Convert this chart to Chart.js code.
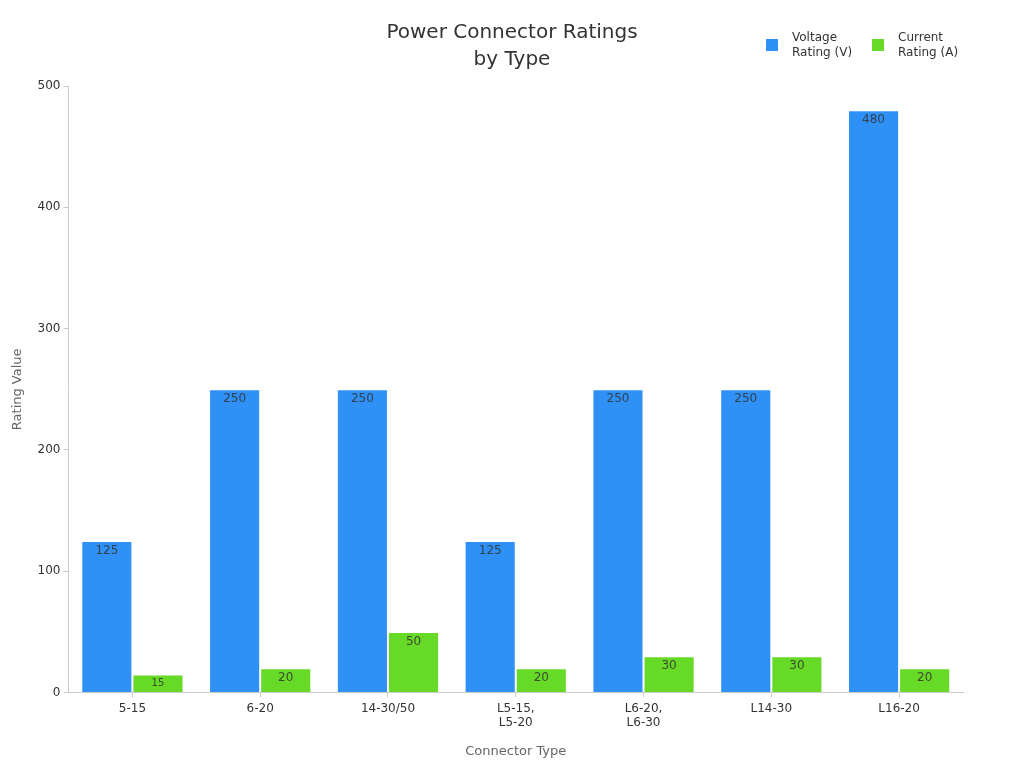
<!DOCTYPE html>
<html>
<head>
<meta charset="utf-8">
<script src="https://cdn.jsdelivr.net/npm/chart.js@4.4.1/dist/chart.umd.min.js"></script>
<style>
  html, body { margin: 0; padding: 0; background: #fff; }
  #wrap { width: 1024px; height: 768px; }
</style>
</head>
<body>
<div id="wrap"><canvas id="canvas" width="1024" height="768"></canvas></div>
<script>
// chart data
const connectorTypes = ['5-15', '6-20', '14-30/50', ['L5-15,', 'L5-20'], ['L6-20,', 'L6-30'], 'L14-30', 'L16-20'];
const voltageRating = [125, 250, 250, 125, 250, 250, 480];
const currentRating = [15, 20, 50, 20, 30, 30, 20];
const seriesNames = [['Voltage', 'Rating (V)'], ['Current', 'Rating (A)']];
const seriesColors = ['#2f91f6', '#66da26'];
const chartTitle = ['Power Connector Ratings', 'by Type'];

const FONT = "'DejaVu Sans', sans-serif";

// writes the value inside the top of each bar
const barLabels = {
    id: 'barLabels',
    afterDatasetsDraw(chart) {
        const ctx = chart.ctx;
        ctx.save();
        ctx.textAlign = 'center';
        ctx.textBaseline = 'middle';
        ctx.fillStyle = 'rgba(50,50,50,0.85)';
        chart.data.datasets.forEach((ds, i) => {
            chart.getDatasetMeta(i).data.forEach((bar, j) => {
                const h = bar.base - bar.y;
                const small = h < 20;
                ctx.font = (small ? 10 : 12) + 'px ' + FONT;
                ctx.fillText(ds.data[j], bar.x, bar.y + (small ? 9 : 10));
            });
        });
        ctx.restore();
    }
};

// title centred on the whole canvas, legend at the top right next to it
const header = {
    id: 'header',
    afterDraw(chart) {
        const ctx = chart.ctx;
        ctx.save();
        ctx.textBaseline = 'middle';
        ctx.textAlign = 'center';
        ctx.fillStyle = '#333';
        ctx.font = '20px ' + FONT;
        chartTitle.forEach((line, k) => {
            ctx.fillText(line, chart.width / 2, 33 + k * 27);
        });

        ctx.font = '12px ' + FONT;
        ctx.textAlign = 'left';
        let x = 766;
        chart.data.datasets.forEach((ds, i) => {
            ctx.fillStyle = ds.backgroundColor;
            ctx.fillRect(x, 39, 12, 12);
            ctx.fillStyle = '#333';
            ds.label.forEach((line, k) => {
                ctx.fillText(line, x + 26, 38 + k * 15);
            });
            x += 106;
        });
        ctx.restore();
    }
};

const ctx = document.getElementById('canvas').getContext('2d');
new Chart(ctx, {
    type: 'bar',
    data: {
        labels: connectorTypes,
        datasets: [
            {
                label: seriesNames[0],
                data: voltageRating,
                backgroundColor: seriesColors[0],
                borderColor: 'rgba(255,255,255,0.6)',
                borderWidth: 1
            },
            {
                label: seriesNames[1],
                data: currentRating,
                backgroundColor: seriesColors[1],
                borderColor: 'rgba(255,255,255,0.6)',
                borderWidth: 1
            }
        ]
    },
    options: {
        responsive: false,
        animation: false,
        categoryPercentage: 0.8,
        barPercentage: 1.0,
        layout: { padding: { top: 86, right: 61, left: 6, bottom: 5 } },
        plugins: {
            legend: { display: false },
            tooltip: { enabled: false },
            title: { display: false }
        },
        scales: {
            x: {
                grid: { display: true, offset: false, drawOnChartArea: false, drawTicks: true, tickLength: 5, color: '#ccc' },
                border: { display: true, color: '#ccc' },
                ticks: { color: '#333', font: { family: FONT, size: 12 }, padding: 4 },
                title: {
                    display: true,
                    text: 'Connector Type',
                    color: '#666',
                    font: { family: FONT, size: 13 },
                    padding: { top: 9 }
                }
            },
            y: {
                min: 0,
                max: 500,
                grid: { display: true, drawOnChartArea: false, drawTicks: true, tickLength: 5, color: '#ccc' },
                border: { display: true, color: '#ccc' },
                ticks: { stepSize: 100, color: '#333', font: { family: FONT, size: 12 }, padding: 3 },
                title: {
                    display: true,
                    text: 'Rating Value',
                    color: '#666',
                    font: { family: FONT, size: 13 },
                    padding: { top: 4, bottom: 9 }
                }
            }
        }
    },
    plugins: [barLabels, header]
});
</script>
</body>
</html>
